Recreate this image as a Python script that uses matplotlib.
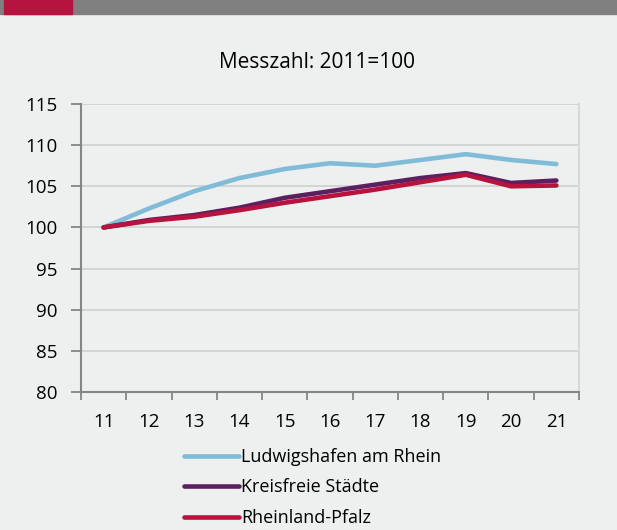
import numpy as np
import matplotlib
matplotlib.use("Agg")
import matplotlib.pyplot as plt
from matplotlib.patches import Rectangle

plt.rcParams['font.family'] = ['Open Sans', 'DejaVu Sans']

# Daten (Messzahl, 2011 = 100)
jahre = [11, 12, 13, 14, 15, 16, 17, 18, 19, 20, 21]
ludwigshafen = [100, 102.3, 104.4, 106.0, 107.1, 107.8, 107.5, 108.2, 108.9, 108.2, 107.7]
kreisfrei = [100, 100.9, 101.5, 102.4, 103.6, 104.4, 105.2, 106.0, 106.6, 105.4, 105.7]
rlp = [100, 100.8, 101.3, 102.1, 103.0, 103.8, 104.6, 105.5, 106.4, 105.0, 105.1]
namen = ["Ludwigshafen am Rhein", "Kreisfreie Städte", "Rheinland-Pfalz"]
farben = ["#80bcd8", "#5c1f60", "#b8123f"]

bg = "#eef0ef"
W, H = 617, 530
fig = plt.figure(figsize=(W / 100, H / 100), dpi=100, facecolor=bg)

# Balken oben
fig.patches.append(Rectangle((0, 1 - 14 / H), 1, 14 / H, transform=fig.transFigure,
                             color="#808080", zorder=0))
fig.patches.append(Rectangle((4 / W, 1 - 14 / H), 68 / W, 14 / H, transform=fig.transFigure,
                             color="#b51440", zorder=1))

ax = fig.add_axes([81 / W, 1 - 392 / H, (579 - 81) / W, (392 - 104) / H])
ax.set_facecolor(bg)

for werte, name, c in zip([ludwigshafen, kreisfrei, rlp], namen, farben):
    ax.plot(jahre, werte, color=c, lw=3.3, label=name, solid_capstyle='round', zorder=3)

ax.set_xlim(10.5, 21.5)
ax.set_ylim(80, 115)
ax.set_yticks(np.arange(80, 116, 5))
ax.yaxis.grid(True, color="#d2d2d2", lw=1.3, zorder=0)

# Striche zwischen den Kategorien, Beschriftung in der Mitte
ax.set_xticks(np.arange(10.5, 22, 1))
ax.set_xticklabels([])
ax.set_xticks(jahre, minor=True)
ax.set_xticklabels([str(j) for j in jahre], minor=True)
ax.tick_params(axis='x', which='major', length=6, width=1.3, color="#858585", direction='out')
ax.tick_params(axis='x', which='minor', length=0, pad=15, labelsize=13.5)
ax.tick_params(axis='y', length=7, width=1.3, color="#858585", labelsize=13.5, pad=10)

for s in ['left', 'bottom']:
    ax.spines[s].set_color("#858585")
    ax.spines[s].set_linewidth(1.5)
ax.spines['top'].set_visible(False)
ax.spines['right'].set_color("#d8d8d8")
ax.spines['right'].set_linewidth(1.5)

fig.text(317 / W, 1 - 62 / H, "Messzahl: 2011=100", ha='center', va='center', fontsize=15)

fig.legend(loc='upper center', bbox_to_anchor=(313 / W, 1 - 437 / H), frameon=False,
           fontsize=13, handlelength=3.0, handletextpad=0.15, labelspacing=0.7,
           borderaxespad=0.2)

fig.savefig("out.png", dpi=100, facecolor=bg)
